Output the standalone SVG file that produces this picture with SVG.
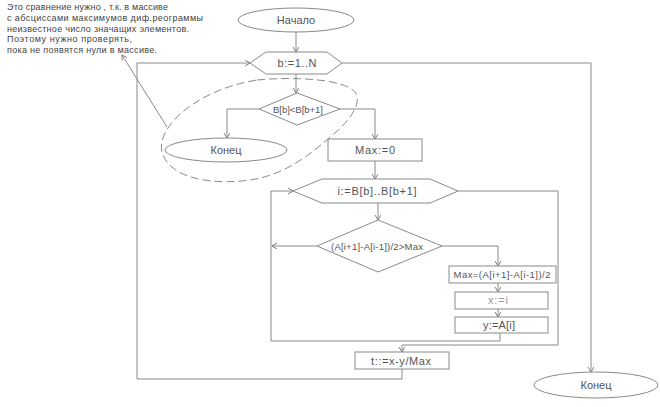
<svg xmlns="http://www.w3.org/2000/svg" width="660" height="407" viewBox="0 0 660 407">
<defs>
<marker id="arr" markerUnits="userSpaceOnUse" markerWidth="8" markerHeight="8" refX="5" refY="3" orient="auto">
<path d="M0,0 L5,3 L0,6" fill="none" stroke="#808080" stroke-width="1"/>
</marker>
<style>
.s{fill:#fff;stroke:#8a8a8a;stroke-width:1}
.c{fill:none;stroke:#8a8a8a;stroke-width:1}
.t{font-family:"Liberation Sans",Arial,sans-serif;font-size:11px;font-weight:normal;fill:#555;text-anchor:middle}
.sm{font-size:9.5px}
.n{font-family:"Liberation Sans",Arial,sans-serif;font-size:9px;font-weight:normal;fill:#444}
</style>
</defs>
<rect width="660" height="407" fill="#fff"/>
<g id="note">
<text class="n" x="7" y="10" textLength="161" lengthAdjust="spacing">Это сравнение нужно , т.к. в массиве</text>
<text class="n" x="7" y="21" textLength="196" lengthAdjust="spacing">с абсциссами максимумов диф.реограммы</text>
<text class="n" x="7" y="31.5" textLength="182" lengthAdjust="spacing">неизвестное число значащих элементов.</text>
<text class="n" x="7" y="42" textLength="125" lengthAdjust="spacing">Поэтому нужно проверять,</text>
<text class="n" x="7" y="52.5" textLength="150" lengthAdjust="spacing">пока не появятся нули в массиве.</text>
</g>
<g id="connectors">
<path class="c" d="M296,32 V52" marker-end="url(#arr)"/>
<path class="c" d="M296,74 V93" marker-end="url(#arr)"/>
<path class="c" d="M259,109 H227 V138" marker-end="url(#arr)"/>
<path class="c" d="M340,109 H375 V139" marker-end="url(#arr)"/>
<path class="c" d="M375,161 V179" marker-end="url(#arr)"/>
<path class="c" d="M378,203 V220" marker-end="url(#arr)"/>
<path class="c" d="M442,246 H498 V266" marker-end="url(#arr)"/>
<path class="c" d="M317,246 H272" marker-end="url(#arr)"/>
<path class="c" d="M498,283 V292" marker-end="url(#arr)"/>
<path class="c" d="M498,309 V317" marker-end="url(#arr)"/>
<path class="c" d="M500,333 V341 H271 V191 H293" marker-end="url(#arr)"/>
<path class="c" d="M458,191 H558 V345 H402 V352" marker-end="url(#arr)"/>
<path class="c" d="M402,369 V379 H137 V63 H250" marker-end="url(#arr)"/>
<path class="c" d="M342,63 H591 V372" marker-end="url(#arr)"/>
<path class="c" d="M167,127 L122,55" marker-end="url(#arr)"/>
<path d="M257,80 C300,76 345,80 355,92 C362,102 352,118 336,132 C310,155 285,175 250,180 C215,185 170,180 162,152 C156,128 195,90 257,80 Z" fill="none" stroke="#8a8a8a" stroke-width="1" stroke-dasharray="8,4"/>
</g>
<g id="start">
<ellipse class="s" cx="296" cy="20" rx="58" ry="12"/>
<text class="t" x="296" y="24">Начало</text>
</g>
<g id="loopB">
<polygon class="s" points="250,63 266,52 327,52 342,63 327,74 266,74"/>
<text class="t" x="297" y="67" textLength="39" lengthAdjust="spacing">b:=1..N</text>
</g>
<g id="condB">
<polygon class="s" points="259,109 297,93 340,109 297,125"/>
<text class="t sm" x="298" y="112.5" textLength="50" lengthAdjust="spacing">B[b]&lt;B[b+1]</text>
</g>
<g id="end1">
<ellipse class="s" cx="226" cy="150" rx="61" ry="12"/>
<text class="t" x="226" y="154">Конец</text>
</g>
<g id="max0">
<rect class="s" x="328" y="139" width="94" height="22"/>
<text class="t" x="375" y="154" textLength="40" lengthAdjust="spacing">Max:=0</text>
</g>
<g id="loopI">
<polygon class="s" points="293,191 322,179 430,179 458,191 430,203 322,203"/>
<text class="t" x="377" y="195" textLength="79" lengthAdjust="spacing">i:=B[b]..B[b+1]</text>
</g>
<g id="condMax">
<polygon class="s" points="317,246 378,220 442,246 378,272"/>
<text class="t sm" x="377" y="249.5" textLength="92" lengthAdjust="spacing">(A[i+1]-A[i-1])/2&gt;Max</text>
</g>
<g id="setMax">
<rect class="s" x="449" y="266" width="107" height="17"/>
<text class="t sm" x="502" y="278" textLength="97" lengthAdjust="spacing">Max=(A[i+1]-A[i-1])/2</text>
</g>
<g id="setX">
<rect class="s" x="455" y="292" width="93" height="17"/>
<text class="t" x="498" y="304" style="fill:#999" textLength="20" lengthAdjust="spacing">x:=i</text>
</g>
<g id="setY">
<rect class="s" x="455" y="317" width="93" height="16"/>
<text class="t" x="499" y="329" textLength="32" lengthAdjust="spacing">y:=A[i]</text>
</g>
<g id="setT">
<rect class="s" x="355" y="352" width="94" height="17"/>
<text class="t" x="401" y="364.5" textLength="60" lengthAdjust="spacing">t::=x-y/Max</text>
</g>
<g id="end2">
<ellipse class="s" cx="596" cy="385" rx="62" ry="13"/>
<text class="t" x="596" y="389">Конец</text>
</g>
</svg>
